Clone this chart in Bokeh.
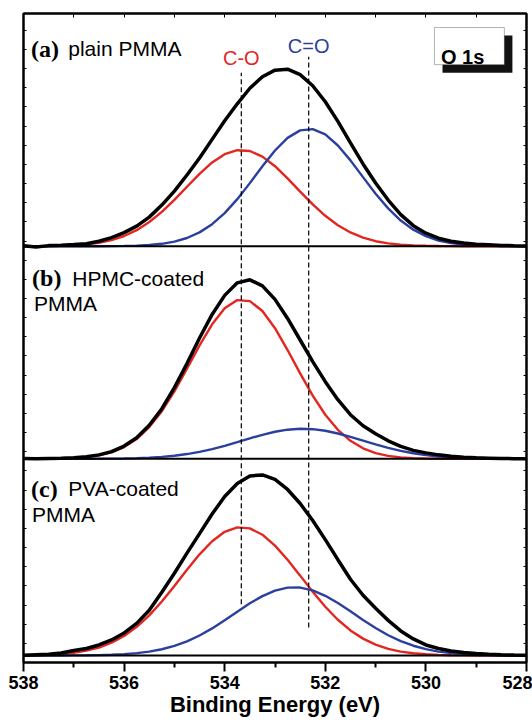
from bokeh.plotting import figure
from bokeh.models import Range1d, LinearAxis, FixedTicker, SingleIntervalTicker, Label, BoxAnnotation, Span
from bokeh.embed import file_html
from bokeh.resources import INLINE

# ---------------- data ----------------
energy = [538.0, 537.75, 537.5, 537.25, 537.0, 536.75, 536.5, 536.25, 536.0, 535.75,
          535.5, 535.25, 535.0, 534.75, 534.5, 534.25, 534.0, 533.75, 533.5, 533.25,
          533.0, 532.75, 532.5, 532.25, 532.0, 531.75, 531.5, 531.25, 531.0, 530.75,
          530.5, 530.25, 530.0, 529.75, 529.5, 529.25, 529.0, 528.75, 528.5, 528.25, 528.0]

# (a) plain PMMA
data_a = [0.5, -0.8, 0.6, 0.9, 1.6, 2.4, 5.0, 8.6, 13.5, 20.0,
          29.0, 41.0, 55.0, 71.0, 88.0, 106.5, 125.0, 142.0, 157.5, 169.0,
          175.5, 176.5, 171.0, 160.0, 144.0, 124.5, 103.0, 82.0, 63.0, 46.0,
          31.5, 20.5, 13.0, 8.0, 5.0, 3.2, 2.0, 1.5, 0.8, 0.5, 0.3]
co_a = [0.0, 0.1, 0.2, 0.5, 1.0, 1.9, 3.5, 6.1, 10.2, 16.0,
        24.1, 34.2, 46.2, 59.3, 72.2, 83.5, 91.8, 95.7, 94.9, 89.3,
        79.8, 67.7, 54.5, 41.7, 30.3, 20.9, 13.7, 8.5, 5.0, 2.8,
        1.5, 0.8, 0.4, 0.2, 0.1, 0.0, 0.0, 0.0, 0.0, 0.0, 0.0]
cdo_a = [0.0, 0.0, 0.0, 0.0, 0.0, 0.0, 0.0, 0.1, 0.3, 0.6,
         1.2, 2.4, 4.6, 8.2, 13.8, 22.0, 33.0, 46.9, 62.9, 79.7,
         95.4, 108.0, 115.5, 116.7, 111.4, 100.4, 85.6, 68.9, 52.4, 37.7,
         25.6, 16.5, 10.0, 5.7, 3.1, 1.6, 0.8, 0.4, 0.2, 0.1, 0.0]

# (b) HPMC-coated PMMA
data_b = [0.3, 0.0, 0.4, 0.7, 1.2, 2.2, 4.0, 7.2, 12.8, 21.0,
          33.5, 50.0, 71.0, 95.0, 120.5, 144.0, 163.0, 175.5, 178.5, 172.5,
          159.0, 140.0, 118.5, 97.0, 77.0, 59.0, 44.0, 33.0, 25.0, 18.0,
          12.5, 8.5, 6.0, 4.0, 2.6, 1.6, 1.0, 0.7, 0.4, 0.2, 0.1]
co_b = [0.0, 0.1, 0.1, 0.4, 0.8, 1.7, 3.5, 6.5, 11.8, 19.8,
        31.7, 47.5, 67.3, 89.9, 113.1, 134.1, 150.1, 158.3, 157.3, 147.4,
        130.3, 108.5, 85.2, 63.1, 44.0, 29.0, 18.0, 10.5, 5.8, 3.0,
        1.5, 0.7, 0.3, 0.1, 0.0, 0.0, 0.0, 0.0, 0.0, 0.0, 0.0]
cdo_b = [0.0, 0.0, 0.0, 0.0, 0.0, 0.0, 0.1, 0.2, 0.4, 0.7,
         1.2, 2.0, 3.1, 4.8, 7.0, 9.7, 13.0, 16.7, 20.5, 24.0,
         27.0, 29.1, 30.0, 29.6, 28.0, 25.3, 21.9, 18.2, 14.5, 11.0,
         8.0, 5.6, 3.7, 2.4, 1.5, 0.9, 0.5, 0.3, 0.1, 0.1, 0.0]

# (c) PVA-coated PMMA
data_c = [0.3, 0.8, 1.2, 2.5, 5.0, 7.0, 10.5, 15.5, 22.5, 32.0,
          45.0, 63.0, 82.0, 102.0, 121.5, 141.0, 158.5, 171.5, 179.0, 180.0,
          175.5, 165.5, 151.5, 134.5, 115.5, 95.5, 76.0, 60.0, 47.0, 35.0,
          24.5, 16.5, 10.5, 7.0, 4.5, 3.0, 2.0, 1.3, 0.8, 0.4, 0.2]
co_c = [0.2, 0.4, 0.8, 1.5, 2.7, 4.8, 7.9, 12.7, 19.4, 28.5,
        40.0, 53.8, 69.3, 85.4, 100.8, 113.9, 123.3, 127.7, 126.7, 120.4,
        109.5, 95.4, 79.6, 63.6, 48.6, 35.6, 25.0, 16.8, 10.8, 6.6,
        3.9, 2.2, 1.2, 0.6, 0.3, 0.1, 0.0, 0.0, 0.0, 0.0, 0.0]
cdo_c = [0.0, 0.0, 0.0, 0.0, 0.1, 0.2, 0.4, 0.7, 1.3, 2.3,
         3.8, 6.2, 9.5, 14.1, 19.9, 27.0, 35.1, 43.6, 52.0, 59.2,
         64.7, 67.6, 67.7, 64.9, 59.5, 52.3, 44.0, 35.4, 27.4, 20.2,
         14.3, 9.7, 6.3, 3.9, 2.3, 1.3, 0.7, 0.4, 0.2, 0.1, 0.0]

panel_offsets = [415, 203, 7]
panel_tags = ["(a)", "(b)", "(c)"]
panel_names = [["plain PMMA"], ["HPMC-coated", "PMMA"], ["PVA-coated", "PMMA"]]
peak_centers = [533.67, 532.33]
peak_names = ["C-O", "C=O"]
x_ticks = [538, 536, 534, 532, 530, 528]
x_minor = [537, 535, 533, 531, 529]
top_ticks = [538, 537, 536, 535, 534, 533, 532, 531, 530, 529, 528]
x_title = "Binding Energy (eV)"

RED = "#e3261f"
BLUE = "#2b3f9f"
SANS = "Liberation Sans"
SERIF = "Liberation Serif"

p = figure(width=532, height=722, x_range=Range1d(538, 528), y_range=Range1d(0, 647),
           output_backend="svg", toolbar_location=None,
           min_border_left=23, min_border_right=6, min_border_top=13, min_border_bottom=60)
p.xgrid.visible = False
p.ygrid.visible = False
p.outline_line_color = "black"
p.outline_line_width = 2
p.background_fill_color = "white"
p.border_fill_color = "white"

# bottom axis
xa = p.xaxis[0]
xa.ticker = FixedTicker(ticks=x_ticks, minor_ticks=x_minor)
xa.axis_line_width = 2
xa.major_tick_line_width = 2
xa.minor_tick_line_width = 2
xa.major_tick_in = 0
xa.major_tick_out = 9
xa.minor_tick_in = 0
xa.minor_tick_out = 5
xa.major_label_standoff = 4
xa.major_label_text_font = SANS
xa.major_label_text_font_style = "bold"
xa.major_label_text_font_size = "18px"
xa.major_label_text_color = "black"
xa.axis_label = x_title
xa.axis_label_text_font = SANS
xa.axis_label_text_font_style = "bold"
xa.axis_label_text_font_size = "22px"
xa.axis_label_text_color = "black"
xa.axis_label_standoff = 0


def hide_labels(ax):
    ax.major_label_text_color = None
    ax.major_label_text_font_size = "1px"
    ax.major_label_standoff = 0
    ax.minor_tick_line_color = None
    ax.major_tick_out = 0
    ax.axis_line_width = 2


# left axis: inward ticks only
ya = p.yaxis[0]
ya.ticker = SingleIntervalTicker(interval=19.1, num_minor_ticks=0)
hide_labels(ya)
ya.major_tick_in = 3

ra = LinearAxis(ticker=SingleIntervalTicker(interval=19.1, num_minor_ticks=0))
hide_labels(ra)
ra.major_tick_in = 3
p.add_layout(ra, "right")

ta = LinearAxis(ticker=FixedTicker(ticks=top_ticks))
hide_labels(ta)
ta.major_tick_in = 4
p.add_layout(ta, "above")

panels = [(data_a, co_a, cdo_a), (data_b, co_b, cdo_b), (data_c, co_c, cdo_c)]
for off, (d, co, cdo) in zip(panel_offsets, panels):
    p.add_layout(Span(location=off, dimension="width", line_color="black", line_width=2))
    p.line(energy, [off + v for v in co], line_color=RED, line_width=2.4)
    p.line(energy, [off + v for v in cdo], line_color=BLUE, line_width=2.4)
    p.line(energy, [off + v for v in d], line_color="black", line_width=3.5)

# dashed peak-position guides
dash_top = [588, 604]
dash_bottom = [58, 35]
p.segment(x0=peak_centers, y0=dash_bottom, x1=peak_centers, y1=dash_top,
          line_color="black", line_width=1.2, line_dash="5 3")

# peak names
name_y = [603, 615]
for xc, yy, nm, col in zip(peak_centers, name_y, peak_names, [RED, BLUE]):
    p.add_layout(Label(x=xc, y=yy, text=nm, text_align="center", text_baseline="alphabetic",
                       text_font=SANS, text_font_size="20px", text_color=col))

# panel labels
tag_x = [537.85, 537.83, 537.85]
name_x = [537.11, 537.03, 537.11]
line2_x = [537.79, 537.79, 537.83]
tag_y = [612, 383, 173]
line_gap = 25
for tg, nms, tx, nx, lx, ty in zip(panel_tags, panel_names, tag_x, name_x, line2_x, tag_y):
    p.add_layout(Label(x=tx, y=ty, text=tg, text_baseline="alphabetic", text_color="black",
                       text_font=SERIF, text_font_style="bold", text_font_size="24px"))
    p.add_layout(Label(x=nx, y=ty, text=nms[0], text_baseline="alphabetic", text_color="black",
                       text_font=SANS, text_font_size="21px"))
    if len(nms) > 1:
        p.add_layout(Label(x=lx, y=ty - line_gap, text=nms[1], text_baseline="alphabetic",
                           text_color="black", text_font=SANS, text_font_size="21px"))

# "O 1s" box with drop shadow
p.add_layout(BoxAnnotation(left=529.67, right=528.28, top=625, bottom=588,
                           fill_color="#111111", fill_alpha=1, line_color=None))
p.add_layout(BoxAnnotation(left=529.83, right=528.44, top=633, bottom=596,
                           fill_color="white", fill_alpha=1, line_color="black", line_width=1))
p.add_layout(Label(x=529.70, y=604, text="O 1s", text_baseline="alphabetic", text_color="black",
                   text_font=SANS, text_font_style="bold", text_font_size="20px"))

open("out.html", "w").write(file_html(p, INLINE))
